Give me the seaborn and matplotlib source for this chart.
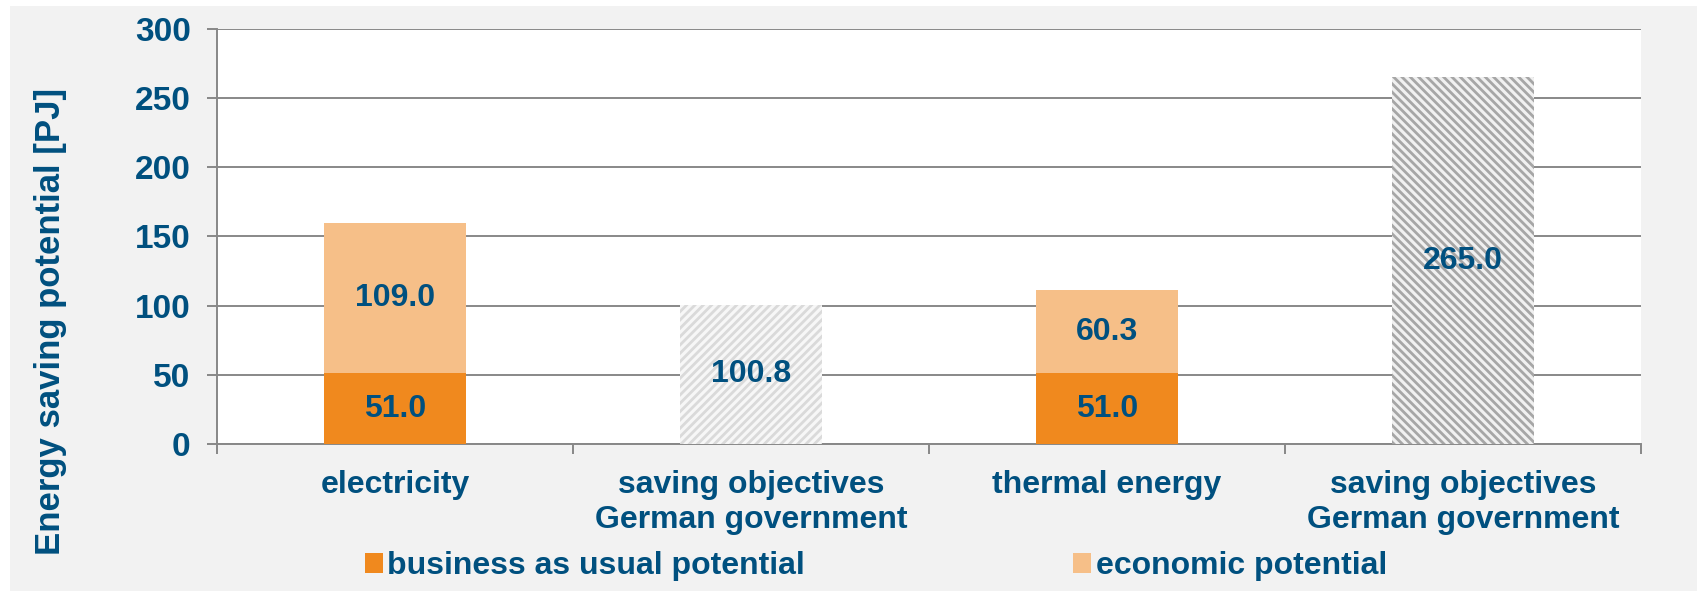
import matplotlib
matplotlib.use("Agg")
import matplotlib.pyplot as plt
import seaborn as sns
import numpy as np
from matplotlib.patches import Patch, Rectangle

# ---- data ----
cat_ids = ["electricity", "objectives_el", "thermal", "objectives_th"]
tick_labels = ["electricity", "saving objectives\nGerman government",
               "thermal energy", "saving objectives\nGerman government"]
bau = [51.0, 0.0, 51.0, 0.0]
economic = [109.0, 0.0, 60.3, 0.0]
objectives = [0.0, 100.8, 0.0, 265.0]
y_ticks = [0, 50, 100, 150, 200, 250, 300]
legend_labels = ["business as usual potential", "economic potential"]
y_label = "Energy saving potential [PJ]"

# ---- style ----
DARK = "#F0891E"
LIGHT = "#F6BF88"
TXT = "#00507F"
GRID = "#888888"
sns.set_theme(style="white")
plt.rcParams["font.family"] = ["Liberation Sans", "DejaVu Sans"]
plt.rcParams["font.weight"] = "bold"
plt.rcParams["hatch.linewidth"] = 2.0

fig = plt.figure(figsize=(16.97, 5.91), dpi=100)
fig.patch.set_facecolor("white")
fig.add_artist(Rectangle((10 / 1697, 0), 1 - 10 / 1697, 1 - 6 / 591,
                         transform=fig.transFigure, facecolor="#F2F2F2",
                         edgecolor="none", zorder=-10))
ax = fig.add_axes([217 / 1697, 1 - 444 / 591, (1641 - 217) / 1697, (444 - 29) / 591])
ax.set_facecolor("white")

totals = [b + e for b, e in zip(bau, economic)]
sns.barplot(x=cat_ids, y=totals, order=cat_ids, color=LIGHT, width=0.4,
            saturation=1, ax=ax, linewidth=0, zorder=3)
sns.barplot(x=cat_ids, y=bau, order=cat_ids, color=DARK, width=0.4,
            saturation=1, ax=ax, linewidth=0, zorder=4)
n_before = len(ax.patches)
sns.barplot(x=cat_ids, y=objectives, order=cat_ids, color="white", width=0.4,
            saturation=1, ax=ax, linewidth=0, zorder=5)
obj_patches = ax.patches[n_before:]
for p, v in zip(obj_patches, objectives):
    if v > 200:
        p.set_facecolor("#F0F0F0")
        p.set_edgecolor("#A6A6A6")
        p.set_hatch("\\\\\\\\")
    elif v > 0:
        p.set_facecolor("#F7F7F7")
        p.set_edgecolor("#DADADA")
        p.set_hatch("////")
    p.set_linewidth(0)

# value labels
fs_bar = 23
for i, (b, e, o) in enumerate(zip(bau, economic, objectives)):
    if b > 0:
        ax.text(i, b / 2, f"{b:.1f}", ha="center", va="center", color=TXT,
                fontsize=fs_bar, fontweight="bold", zorder=10)
    if e > 0:
        ax.text(i, b + e / 2, f"{e:.1f}", ha="center", va="center", color=TXT,
                fontsize=fs_bar, fontweight="bold", zorder=10)
    if o > 0:
        ax.text(i, o / 2, f"{o:.1f}", ha="center", va="center", color=TXT,
                fontsize=fs_bar, fontweight="bold", zorder=10)

ax.set_ylim(0, 300)
ax.set_xlim(-0.5, 3.5)
ax.set_yticks(y_ticks)
ax.set_yticklabels([str(t) for t in y_ticks], color=TXT, fontsize=24, fontweight="bold")
ax.yaxis.grid(True, color=GRID, linewidth=1.4, zorder=0)
ax.set_axisbelow(True)
ax.tick_params(axis="y", direction="out", length=7, width=1.4, color=GRID, pad=12, left=True)

ax.set_xticks(range(len(cat_ids)))
ax.set_xticklabels(tick_labels, color=TXT, fontsize=23, fontweight="bold", linespacing=1.2)
ax.tick_params(axis="x", which="major", length=0, pad=19)
ax.set_xticks(np.arange(-0.5, 4, 1.0), minor=True)
ax.tick_params(axis="x", which="minor", direction="out", length=7, width=1.4, color=GRID, bottom=True)

for s in ["top", "right"]:
    ax.spines[s].set_visible(False)
for s in ["left", "bottom"]:
    ax.spines[s].set_color(GRID)
    ax.spines[s].set_linewidth(1.4)

ax.set_xlabel("")
ax.set_ylabel(y_label, color=TXT, fontsize=25, fontweight="bold", labelpad=0)
ax.yaxis.set_label_coords(-(217 - 67) / (1641 - 217), (444 - 321) / (444 - 29))

handles = [Patch(facecolor=DARK, edgecolor="none"), Patch(facecolor=LIGHT, edgecolor="none")]
fig.legend(handles, legend_labels, loc="center left",
           bbox_to_anchor=(365 / 1697, 1 - 566 / 591), ncol=2, frameon=False,
           borderpad=0, borderaxespad=0, handlelength=0.55, handleheight=0.6,
           handletextpad=0.15, columnspacing=8.4,
           prop={"size": 23, "weight": "bold"}, labelcolor=TXT)

fig.savefig("out.png", dpi=100, facecolor=fig.get_facecolor())
